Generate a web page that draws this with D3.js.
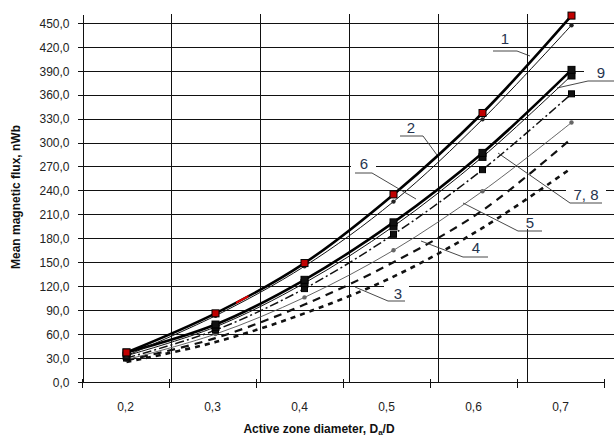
<!DOCTYPE html>
<meta charset="utf-8">
<style>
  body { margin: 0; background: #fff; }
  svg { display: block; font-family: "Liberation Sans", Arial, sans-serif; }
  .grid line { stroke: #111; stroke-width: 1; shape-rendering: crispEdges; }
  .axis text { font-size: 12px; fill: #222; }
  .axis path, .axis line { stroke: #111; shape-rendering: crispEdges; }
  .tag { font-family: "Liberation Sans", Arial, sans-serif; font-size: 15px; fill: #26344e; }
  .leader { fill: none; stroke: #333; stroke-width: 0.9; }
</style>
<body>
<div id="chart"></div>
<script src="https://cdnjs.cloudflare.com/ajax/libs/d3/7.8.5/d3.min.js"></script>
<script>
// Da/D ratios (categories) and tick labels
const ratios = [0.2, 0.3, 0.4, 0.5, 0.6, 0.7];
const ratioLabels = ['0,2', '0,3', '0,4', '0,5', '0,6', '0,7'];
const fluxTicks = d3.range(0, 451, 30);

// mean magnetic flux, nWb
const flux1 = [37, 86, 149, 235, 337, 459];
const flux2 = [33, 83, 145, 226, 329, 447];
const flux6 = [37, 72, 128, 200, 287, 391];
const flux9 = [33, 69, 124, 195, 282, 384];
const flux78 = [30, 65, 117, 185, 266, 361];
const flux5 = [28, 60, 106, 165, 239, 325];
const flux4 = [27, 55, 97, 150, 215, 305];
const flux3 = [25, 50, 86, 132, 193, 268];

const series = [
  {name: '3', values: flux3, width: 2.6, dash: '5,5', color: '#111'},
  {name: '4', values: flux4, width: 2.2, dash: '8,6', color: '#111'},
  {name: '5', values: flux5, width: 0.9, dash: null, color: '#555', marker: 'dot', mfill: '#666'},
  {name: '7,8', values: flux78, width: 1.5, dash: '9,3,2,3', color: '#111', marker: 'square', msize: 6, mfill: '#111'},
  {name: '9', values: flux9, width: 1, dash: null, color: '#111', marker: 'square', msize: 7, mfill: '#111'},
  {name: '6', values: flux6, width: 2.6, dash: null, color: '#000', marker: 'square', msize: 7, mfill: '#111'},
  {name: '2', values: flux2, width: 1, dash: null, color: '#111', marker: 'dot', mfill: '#222'},
  {name: '1', values: flux1, width: 2.6, dash: null, color: '#000', marker: 'square', msize: 7, mfill: '#c00000'}
];

// curve labels with underline and leader
const tags = [
  {text: '1', x: 505, y: 44, u1: 493, u2: 517, uy: 51, lx: 530, ly: 56, from: 'right'},
  {text: '2', x: 411, y: 133, u1: 400, u2: 423, uy: 136, lx: 437, ly: 155, from: 'right'},
  {text: '9', x: 601, y: 78, u1: 588, u2: 614, uy: 81, lx: 557, ly: 88, from: 'left'},
  {text: '6', x: 364, y: 169, u1: 355, u2: 372, uy: 173, lx: 416, ly: 199, from: 'right'},
  {text: '7, 8', x: 586, y: 200, u1: 570, u2: 602, uy: 203, lx: 498, ly: 153, from: 'left'},
  {text: '5', x: 530, y: 228, u1: 518, u2: 542, uy: 231, lx: 463, ly: 203, from: 'left'},
  {text: '4', x: 476, y: 253, u1: 463, u2: 488, uy: 257, lx: 421, ly: 241, from: 'left'},
  {text: '3', x: 398, y: 299, u1: 388, u2: 405, uy: 301, lx: 355, ly: 287, from: 'left'}
];

const width = 614, height = 444;
const svg = d3.select('#chart').append('svg')
  .attr('width', width)
  .attr('height', height);

const x = d3.scaleBand().domain(ratios).range([82, 616]);
const xAxisScale = d3.scaleBand().domain(ratios).range([82, 604]);
const y = d3.scaleLinear().domain([0, 461]).range([382, 14]);
const cx = d => x(d) + x.bandwidth() / 2;

// grid
const grid = svg.append('g').attr('class', 'grid');
grid.selectAll('.h')
  .data(fluxTicks.filter(d => d > 0))
  .enter().append('line')
    .attr('x1', 82).attr('x2', width)
    .attr('y1', d => Math.round(y(d)) + 0.5).attr('y2', d => Math.round(y(d)) + 0.5);
grid.selectAll('.v')
  .data(ratios.slice(1))
  .enter().append('line')
    .attr('x1', d => Math.round(x(d)) + 0.5).attr('x2', d => Math.round(x(d)) + 0.5)
    .attr('y1', y.range()[1]).attr('y2', y(0));

// white boxes under the curve labels
svg.append('g').selectAll('rect')
  .data(tags)
  .enter().append('rect')
    .attr('x', d => d.u1 - 4)
    .attr('y', d => d.y - 13)
    .attr('width', d => d.u2 - d.u1 + 8)
    .attr('height', 14)
    .attr('fill', '#fff');

// y axis
svg.append('g')
  .attr('class', 'axis')
  .attr('transform', 'translate(82.5,0)')
  .call(d3.axisLeft(y)
    .tickValues(fluxTicks)
    .tickSize(5)
    .tickSizeOuter(0)
    .tickPadding(8)
    .tickFormat(d => d3.format('.1f')(d).replace('.', ',')))
  .call(g => g.selectAll('text').attr('dy', '0.36em'));

// x axis
const xa = svg.append('g')
  .attr('class', 'axis')
  .attr('transform', 'translate(0,382.5)')
  .call(d3.axisBottom(xAxisScale)
    .tickSize(0)
    .tickPadding(20)
    .tickFormat((d, i) => ratioLabels[i]));
xa.select('.domain').remove();
xa.append('line')
  .attr('x1', 82).attr('x2', 604)
  .attr('stroke', '#111');
xa.selectAll('.bt')
  .data(ratios.map(d => xAxisScale(d)).concat([xAxisScale.range()[1]]))
  .enter().append('line')
    .attr('x1', d => Math.round(d) + 0.5).attr('x2', d => Math.round(d) + 0.5)
    .attr('y1', -4).attr('y2', 5)
    .attr('stroke', '#111');

// axis titles
const xt = svg.append('text')
  .attr('x', 319).attr('y', 433)
  .attr('text-anchor', 'middle')
  .attr('font-size', 12).attr('font-weight', 'bold').attr('fill', '#111')
  .text('Active zone diameter, D');
xt.append('tspan').attr('font-size', 8).attr('dy', 2).text('a');
xt.append('tspan').attr('dy', -2).text('/D');

svg.append('text')
  .attr('transform', 'translate(20,197) rotate(-90)')
  .attr('text-anchor', 'middle')
  .attr('font-size', 12).attr('font-weight', 'bold').attr('fill', '#111')
  .text('Mean magnetic flux, nWb');

// curves
const line = d3.line()
  .x((d, i) => cx(ratios[i]))
  .y(d => y(d))
  .curve(d3.curveCatmullRom.alpha(0.5));

svg.append('g').selectAll('path')
  .data(series)
  .enter().append('path')
    .attr('d', d => line(d.values))
    .attr('fill', 'none')
    .attr('stroke', d => d.color)
    .attr('stroke-width', d => d.width)
    .attr('stroke-dasharray', d => d.dash);

// short red stretch on curve 1
svg.append('clipPath').attr('id', 'redclip')
  .append('rect')
    .attr('x', cx(0.3) + x.bandwidth() * 0.23)
    .attr('width', x.bandwidth() * 0.14)
    .attr('y', 0).attr('height', height);
svg.append('path')
  .attr('d', line(flux1))
  .attr('clip-path', 'url(#redclip)')
  .attr('fill', 'none')
  .attr('stroke', '#e00000')
  .attr('stroke-width', 2);

// markers
series.filter(s => s.marker).forEach(s => {
  const g = svg.append('g');
  if (s.marker === 'square') {
    g.selectAll('rect')
      .data(s.values)
      .enter().append('rect')
        .attr('x', (d, i) => cx(ratios[i]) - s.msize / 2)
        .attr('y', d => y(d) - s.msize / 2)
        .attr('width', s.msize).attr('height', s.msize)
        .attr('fill', s.mfill)
        .attr('stroke', '#000')
        .attr('stroke-width', 1);
  } else {
    g.selectAll('circle')
      .data(s.values)
      .enter().append('circle')
        .attr('cx', (d, i) => cx(ratios[i]))
        .attr('cy', d => y(d))
        .attr('r', 2.2)
        .attr('fill', s.mfill);
  }
});

// labels
const tg = svg.append('g');
tg.selectAll('path')
  .data(tags)
  .enter().append('path')
    .attr('class', 'leader')
    .attr('d', d => {
      const sx = d.from === 'left' ? d.u1 : d.u2;
      return `M${d.from === 'left' ? d.u2 : d.u1},${d.uy}H${sx}L${d.lx},${d.ly}`;
    });
tg.selectAll('text')
  .data(tags)
  .enter().append('text')
    .attr('class', 'tag')
    .attr('x', d => d.x).attr('y', d => d.y)
    .attr('text-anchor', 'middle')
    .text(d => d.text);
</script>
</body>
</html>
